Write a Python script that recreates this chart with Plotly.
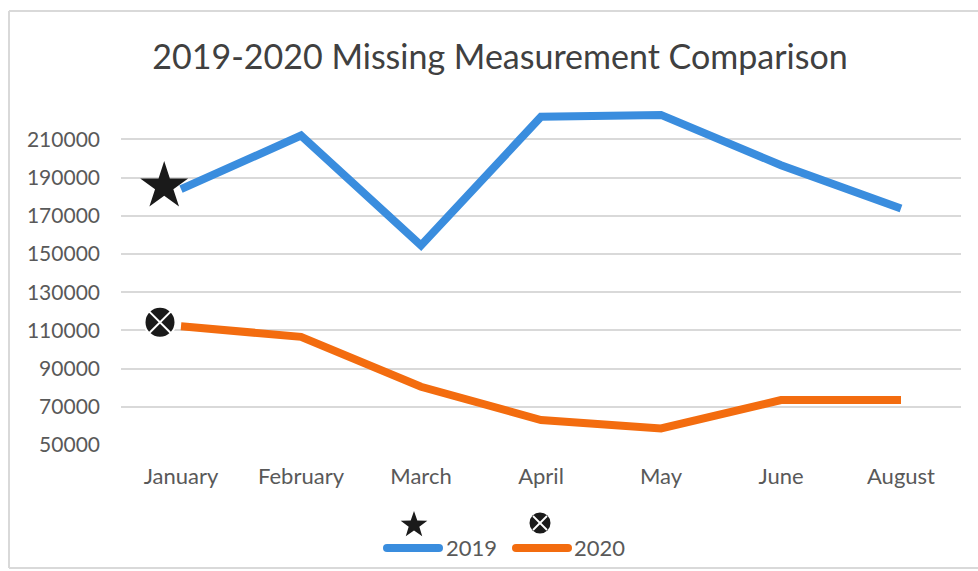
import math
import plotly.graph_objects as go

months = ["January", "February", "March", "April", "May", "June", "August"]
values_2019 = [184000, 212000, 154500, 221800, 222800, 196500, 173800]
values_2020 = [112200, 106600, 80500, 63100, 58700, 73500, 73500]
series_names = ["2019", "2020"]
y_ticks = [50000, 70000, 90000, 110000, 130000, 150000, 170000, 190000, 210000]

BLUE = "#3A8DDE"
ORANGE = "#F36C0F"
TEXT = "#595959"
MARK = "#1a1a1a"
BORDER = "#D9D9D9"
FONT = "Lato"

W, H = 978, 571
L, R, T, B = 121, 17, 105, 126
PW, PH = W - L - R, H - T - B
Y0, Y1 = 50000, 228000
X0, X1 = -0.5, len(months) - 0.5


def px2x(px):
    return (px - L) / PW


def px2y(py):
    return (H - B - py) / PH


xs = list(range(len(months)))

fig = go.Figure()
fig.add_trace(go.Scatter(x=xs, y=values_2019, mode="lines", name=series_names[0],
                         line=dict(color=BLUE, width=8), showlegend=False))
fig.add_trace(go.Scatter(x=xs, y=values_2020, mode="lines", name=series_names[1],
                         line=dict(color=ORANGE, width=8), showlegend=False))

# start markers (pasted beside the first point)
fig.add_trace(go.Scatter(x=[xs[0] - 0.14], y=[values_2019[0] + 1500], mode="markers",
                         marker=dict(symbol="star", size=36, color=MARK),
                         showlegend=False, cliponaxis=False))
fig.add_trace(go.Scatter(x=[xs[0] - 0.175], y=[values_2020[0] + 2000], mode="markers",
                         marker=dict(symbol="circle-x", size=31, color=MARK,
                                     line=dict(color="white", width=2)),
                         showlegend=False, cliponaxis=False))


def star_path(cx, cy, r_out, r_in):
    pts = []
    for k in range(10):
        a = math.radians(-90 + 36 * k)
        r = r_out if k % 2 == 0 else r_in
        pts.append((px2x(cx + r * math.cos(a)), px2y(cy + r * math.sin(a))))
    return "M " + " L ".join(f"{x:.5f},{y:.5f}" for x, y in pts) + " Z"


def pline(x0, y0, x1, y1, color, width):
    return dict(type="line", xref="paper", yref="paper", x0=px2x(x0), x1=px2x(x1),
                y0=px2y(y0), y1=px2y(y1), line=dict(color=color, width=width))


shapes = [
    # outer frame (top, left, bottom)
    pline(9, 11, 990, 11, BORDER, 2),
    pline(9, 11, 9, 568, BORDER, 2),
    pline(9, 568, 990, 568, BORDER, 2),
    # legend samples
    pline(387, 548, 439, 548, BLUE, 8),
    pline(516, 548, 568, 548, ORANGE, 8),
    # legend glyphs above the samples
    dict(type="path", xref="paper", yref="paper", path=star_path(414, 525, 14, 5.6),
         fillcolor=MARK, line=dict(width=0)),
    dict(type="circle", xref="paper", yref="paper", x0=px2x(529.5), x1=px2x(550.5),
         y0=px2y(533.5), y1=px2y(512.5), fillcolor=MARK, line=dict(width=0)),
    pline(533, 530, 547, 516, "white", 1.8),
    pline(533, 516, 547, 530, "white", 1.8),
]
for cx, col in [(387, BLUE), (439, BLUE), (516, ORANGE), (568, ORANGE)]:
    shapes.append(dict(type="circle", xref="paper", yref="paper",
                       x0=px2x(cx - 4), x1=px2x(cx + 4), y0=px2y(552), y1=px2y(544),
                       fillcolor=col, line=dict(width=0)))

annotations = [
    dict(text=series_names[0], xref="paper", yref="paper", x=px2x(444), y=px2y(547),
         xanchor="left", yanchor="middle", showarrow=False, font=dict(size=22, color=TEXT, family=FONT)),
    dict(text=series_names[1], xref="paper", yref="paper", x=px2x(572), y=px2y(547),
         xanchor="left", yanchor="middle", showarrow=False, font=dict(size=22, color=TEXT, family=FONT)),
]

fig.update_layout(
    width=W, height=H,
    margin=dict(l=L, r=R, t=T, b=B),
    paper_bgcolor="white", plot_bgcolor="white",
    font=dict(family=FONT, color=TEXT, size=22),
    title=dict(text="2019-2020 Missing Measurement Comparison", xref="paper", x=px2x(500),
               xanchor="center", yref="container", y=1 - 57 / H, yanchor="middle",
               font=dict(size=34, color="#404040", family=FONT)),
    xaxis=dict(tickmode="array", tickvals=xs, ticktext=months, range=[X0, X1],
               showgrid=False, zeroline=False, showline=False, ticks="",
               ticklabelstandoff=16, tickfont=dict(size=22, color=TEXT)),
    yaxis=dict(range=[Y0, Y1], tickmode="array", tickvals=y_ticks, tickformat="d",
               showgrid=True, gridcolor="#D9D9D9", gridwidth=2, zeroline=False, showline=False,
               ticks="", ticklabelstandoff=20, tickfont=dict(size=21, color=TEXT)),
    shapes=shapes,
    annotations=annotations,
    showlegend=False,
)

fig.write_html("out.html", config={"displayModeBar": False},
               post_script="document.body.style.margin='0';document.body.style.overflow='hidden';"
                           "document.documentElement.style.overflow='hidden';")
